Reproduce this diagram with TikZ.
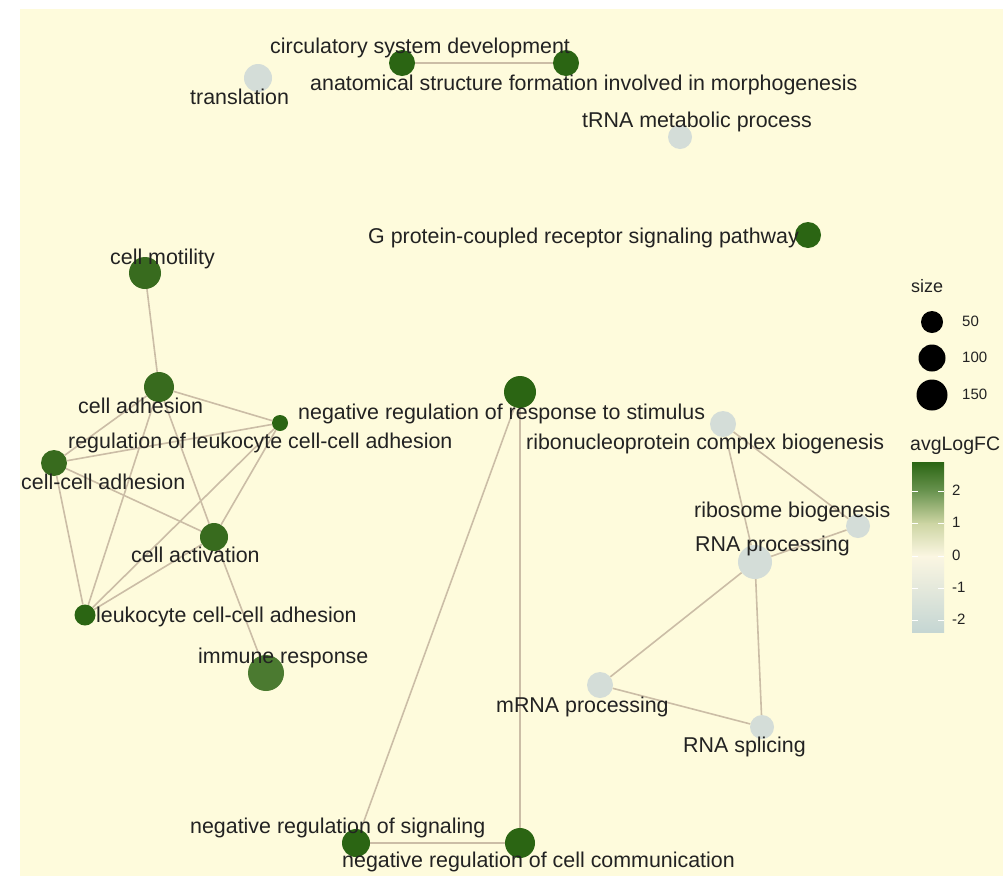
\documentclass[tikz,border=0pt]{standalone}
\usepackage{fontspec}
\setmainfont{Liberation Sans}

\definecolor{paper}{HTML}{FEFBDC}
\definecolor{inktext}{HTML}{222222}
\definecolor{linkc}{HTML}{CBBDA6}
\definecolor{up}{HTML}{2B6513}      % avgLogFC about 2.5
\definecolor{upmid}{HTML}{386B1E}   % avgLogFC about 2
\definecolor{uplow}{HTML}{4B7A30}   % avgLogFC about 1.5
\definecolor{down}{HTML}{D4DDD8}    % avgLogFC about -2
\definecolor{two}{HTML}{6A9450}
\definecolor{one}{HTML}{CDD5A3}
\definecolor{zero}{HTML}{FBF6E2}
\definecolor{low}{HTML}{C5D6D3}

\begin{document}
\begin{tikzpicture}[x=1pt, y=-1pt,
    every node/.append style={font=\fontsize{21.4}{24}\selectfont, text=inktext},
    term/.style={circle, inner sep=0pt, minimum size=#1pt},
    lbl/.style={anchor=mid west, inner sep=0pt, yshift=-5pt},
    link/.style={draw=linkc, line width=1.6pt},
    key/.style={anchor=mid west, inner sep=0pt, yshift=-2pt, font=\fontsize{15}{17}\selectfont}]

    % page: white strip at top and left, paper colour behind the graph
    \fill[white] (0,0) rectangle (1003,876);
    \fill[paper] (20,9) rectangle (1003,876);
    \useasboundingbox (0,0) rectangle (1003,876);

    % terms (diameter in px)
    \node[term=28, fill=down]  (transl)  at (258,78)  {};
    \node[term=26, fill=up]    (circ)    at (402,63)  {};
    \node[term=26, fill=up]    (anat)    at (566,63)  {};
    \node[term=24, fill=down]  (trna)    at (680,137) {};
    \node[term=26, fill=up]    (gpcr)    at (808,235) {};

    \node[term=32, fill=upmid] (motil)   at (145,273) {};
    \node[term=30, fill=upmid] (adhes)   at (159,387) {};
    \node[term=16, fill=up]    (regleuk) at (280,423) {};
    \node[term=26, fill=upmid] (ccadh)   at (54,463)  {};
    \node[term=28, fill=upmid] (activ)   at (214,537) {};
    \node[term=21, fill=up]    (leuk)    at (85,615)  {};
    \node[term=36, fill=uplow] (immune)  at (266,673) {};

    \node[term=32, fill=up]    (negresp) at (520,392) {};
    \node[term=28, fill=up]    (negsig)  at (356,843) {};
    \node[term=30, fill=up]    (negcomm) at (520,843) {};

    \node[term=26, fill=down]  (ribonuc) at (723,424) {};
    \node[term=24, fill=down]  (ribos)   at (858,526) {};
    \node[term=34, fill=down]  (rnaproc) at (755,562) {};
    \node[term=26, fill=down]  (mrna)    at (600,685) {};
    \node[term=24, fill=down]  (splic)   at (762,727) {};

    % links
    \draw[link] (circ) -- (anat);
    \draw[link] (motil) -- (adhes);
    \foreach \a/\b in {adhes/regleuk, adhes/ccadh, adhes/leuk, adhes/activ,
                       regleuk/ccadh, regleuk/leuk, regleuk/activ,
                       ccadh/activ, ccadh/leuk, activ/leuk, activ/immune,
                       negresp/negsig, negresp/negcomm, negsig/negcomm,
                       ribonuc/ribos, ribonuc/rnaproc, ribos/rnaproc,
                       rnaproc/mrna, rnaproc/splic, mrna/splic}
        \draw[link] (\a) -- (\b);

    % labels
    \node[lbl] (transl-l)  at (190,97)  {translation};
    \node[lbl] (circ-l)    at (270,46)  {circulatory system development};
    \node[lbl] (anat-l)    at (310,83)  {anatomical structure formation involved in morphogenesis};
    \node[lbl] (trna-l)    at (582,120) {tRNA metabolic process};
    \node[lbl] (gpcr-l)    at (368,236) {G protein-coupled receptor signaling pathway};
    \node[lbl] (motil-l)   at (110,257) {cell motility};
    \node[lbl] (adhes-l)   at (78,406)  {cell adhesion};
    \node[lbl] (negresp-l) at (298,412) {negative regulation of response to stimulus};
    \node[lbl] (regleuk-l) at (68,441)  {regulation of leukocyte cell-cell adhesion};
    \node[lbl] (ribonuc-l) at (526,442) {ribonucleoprotein complex biogenesis};
    \node[lbl] (ccadh-l)   at (21,482)  {cell-cell adhesion};
    \node[lbl] (ribos-l)   at (694,510) {ribosome biogenesis};
    \node[lbl] (rnaproc-l) at (695,544) {RNA processing};
    \node[lbl] (activ-l)   at (131,555) {cell activation};
    \node[lbl] (leuk-l)    at (96,615)  {leukocyte cell-cell adhesion};
    \node[lbl] (immune-l)  at (198,656) {immune response};
    \node[lbl] (mrna-l)    at (496,705) {mRNA processing};
    \node[lbl] (splic-l)   at (683,745) {RNA splicing};
    \node[lbl] (negsig-l)  at (190,826) {negative regulation of signaling};
    \node[lbl] (negcomm-l) at (342,860) {negative regulation of cell communication};

    % legend: size
    \node[key, font=\fontsize{18}{20}\selectfont] (size-t) at (911,288) {size};
    \foreach \n/\y/\d in {50/322/22, 100/358/27, 150/395/31} {
        \node[term=\d, fill=black] (s\n) at (932,\y) {};
        \node[key] (s\n-l) at (962,\y) {\n};
    }

    % legend: colour bar, one shade per step between ticks
    \node[key, font=\fontsize{19.5}{22}\selectfont] (fc-t) at (910,446) {avgLogFC};
    \shade[top color=up, bottom color=two]   (912,462) rectangle (944,491.5);
    \shade[top color=two, bottom color=one]  (912,491) rectangle (944,523.5);
    \shade[top color=one, bottom color=zero] (912,523) rectangle (944,556.5);
    \shade[top color=zero, bottom color=low] (912,556) rectangle (944,632);
    \foreach \v/\y in {2/491, 1/523, 0/556, -1/588, -2/620} {
        \draw[white, line width=0.8pt] (912,\y) -- (918,\y) (938,\y) -- (944,\y);
        \node[key] (fc\v) at (952,\y) {\v};
    }

\end{tikzpicture}
\end{document}
